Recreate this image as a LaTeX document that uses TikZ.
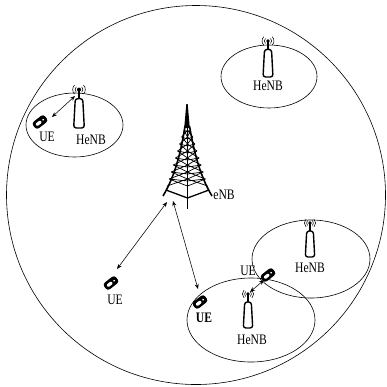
\documentclass[tikz,border=0pt]{standalone}
\usepackage{fontspec}
\setmainfont{Liberation Serif}[FakeStretch=0.8]
\usetikzlibrary{arrows.meta}
\begin{document}
\begin{tikzpicture}[x=1pt,y=-1pt,
  cell/.style={line width=0.6pt},
  link/.style={line width=0.55pt,{Stealth[length=5pt,width=4pt]}-{Stealth[length=5pt,width=4pt]}},
  lbl/.style={font=\fontsize{14.5}{14.5}\selectfont, inner sep=0pt},
  henb/.pic={
    % antenna body
    \draw[line width=1.4pt,fill=white,rounded corners=2.6pt]
      (-4.7,0) -- (-3.3,-26) -- (3.3,-26) -- (4.7,0) -- cycle;
    % mast and radiating element
    \draw[line width=1.3pt] (0,-26) -- (0,-34);
    \fill (0,-34) circle[radius=1.8pt];
    \draw[line width=0.55pt]
      (0,-34) ++(135:3.4pt) arc[start angle=135,end angle=225,radius=3.4pt]
      (0,-34) ++(-45:3.4pt) arc[start angle=-45,end angle=45,radius=3.4pt]
      (0,-34) ++(135:5.6pt) arc[start angle=135,end angle=225,radius=5.6pt]
      (0,-34) ++(-45:5.6pt) arc[start angle=-45,end angle=45,radius=5.6pt];
  },
  handset/.pic={
    \fill[rotate=38,rounded corners=3pt] (-7.5,-4.2) rectangle (7.5,4.2);
    \fill[white,rotate=38,rounded corners=1pt] (-4.8,-1.4) rectangle (1.2,1.7);
    \fill[white,rotate=38] (3.8,0.1) circle[radius=1pt];
  }]
\useasboundingbox (0,0) rectangle (387,386);

% macro cell
\draw[cell] (196,195) circle[radius=189.5pt];

% small cells
\draw[cell] (74.5,125) ellipse[x radius=48.5pt,y radius=32pt];
\draw[cell] (269,76.5) ellipse[x radius=48pt,y radius=31.5pt];
\draw[cell] (311,259) ellipse[x radius=59pt,y radius=39pt];
\draw[cell] (251,320) ellipse[x radius=64pt,y radius=42pt];

% eNB lattice tower
\fill (186.3,104) -- (187.7,104) -- (189.8,128) -- (184.2,128) -- cycle;
\draw[line width=1.6pt] (185,126) .. controls (181,152) and (175,176) .. (163,196);
\draw[line width=1.6pt] (189.5,126) .. controls (194,152) and (200,176) .. (212,196);
\draw[line width=1.6pt] (187.5,126) -- (187.5,209);
\draw[line width=1.3pt] (166,190) -- (187.5,198) -- (209,190);
\foreach \y in {130,137,...,179} {
  \pgfmathsetmacro\xa{185-(\y-126)*0.30}
  \pgfmathsetmacro\xb{185-(\y+7-126)*0.30}
  \pgfmathsetmacro\xc{189.5+(\y-126)*0.30}
  \pgfmathsetmacro\xd{189.5+(\y+7-126)*0.30}
  \draw[line width=0.7pt] (\xa,\y) -- (187.5,\y+7) (187.5,\y) -- (\xb,\y+7)
    (\xc,\y) -- (187.5,\y+7) (187.5,\y) -- (\xd,\y+7)
    (\xa,\y) -- (187.5,\y+2) -- (\xc,\y);
}
\coordinate (tw1) at (167,202);
\coordinate (tw2) at (173,201);
\node[lbl] (enb) at (224,195) {eNB};

% HeNBs
\pic[scale=1.13] at (79,128) {henb};
\coordinate (h1) at (75,96);
\node[lbl] (h1l) at (91,140) {HeNB};

\pic[scale=1.06] at (268,77) {henb};
\node[lbl] (h2l) at (268,86) {HeNB};

\pic at (248,328) {henb};
\coordinate (h3) at (250,292);
\node[lbl] (h3l) at (252,340) {HeNB};

\pic at (310,257) {henb};
\node[lbl] (h4l) at (310,268) {HeNB};

% UEs
\node[lbl] (u4l) at (248,271) {UE};
\pic at (40,122) {handset};
\coordinate (u1) at (52,117);
\node[lbl] (u1l) at (47,137) {UE};

\pic at (111,283) {handset};
\coordinate (u2) at (117,269);
\node[lbl] (u2l) at (115,300) {UE};

\pic at (200,302) {handset};
\coordinate (u3) at (198,289);
\node[lbl,font=\fontsize{14.5}{14.5}\selectfont\bfseries] (u3l) at (204,318) {UE};

\pic at (268,275) {handset};
\coordinate (u4) at (264,280);

% radio links
\draw[link] (u1) -- (h1);
\draw[link] (u2) -- (tw1);
\draw[link] (tw2) -- (u3);
\draw[link] (h3) -- (u4);
\end{tikzpicture}
\end{document}
